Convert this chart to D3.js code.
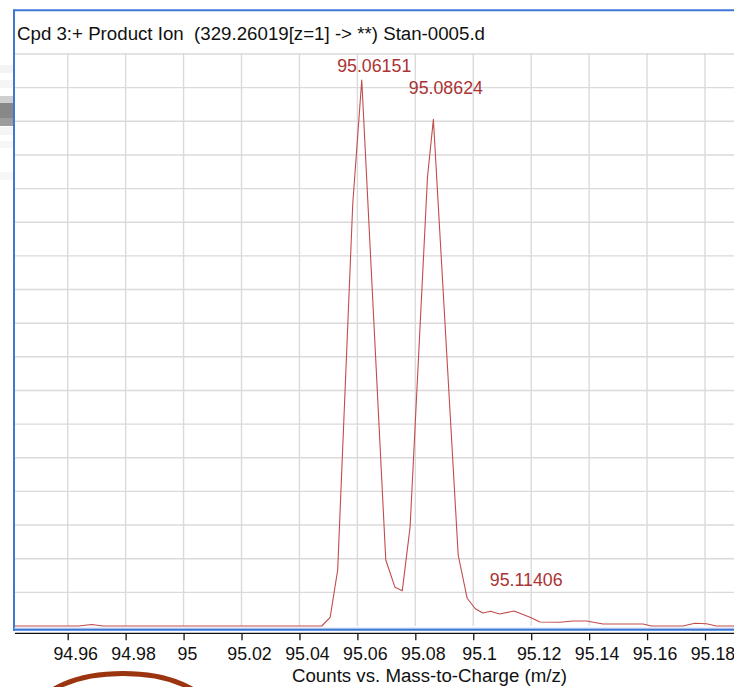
<!DOCTYPE html>
<html>
<head>
<meta charset="utf-8">
<script src="https://cdn.jsdelivr.net/npm/d3@7"></script>
<style>
  html, body { margin: 0; padding: 0; background: #ffffff; }
  svg { display: block; font-family: "Liberation Sans", Arial, Helvetica, sans-serif; }
</style>
</head>
<body>
<svg id="chart" width="734" height="687"></svg>
<script>
// Product ion spectrum, profile trace (m/z vs counts, x10^3)
const mzValues = [
  94.9366, 94.9637, 94.9683, 94.9722, 95.0477, 95.0506, 95.0532, 95.0584,
  95.06151, 95.0698, 95.0730, 95.0755, 95.0782, 95.0842, 95.08624, 95.0948,
  95.0979, 95.1007, 95.1033, 95.1060, 95.1090, 95.11406, 95.1196, 95.1230,
  95.1299, 95.1345, 95.1391, 95.1448, 95.1586, 95.1615, 95.1724, 95.1765,
  95.1805, 95.1839, 95.1920
];
const countValues = [
  0.000, 0.000, 0.022, 0.000, 0.000, 0.129, 0.832, 6.270,
  8.113, 0.981, 0.575, 0.525, 1.471, 6.672, 7.528, 1.055,
  0.412, 0.256, 0.193, 0.218, 0.178, 0.223, 0.129, 0.059,
  0.055, 0.074, 0.074, 0.030, 0.030, 0.000, 0.000, 0.040,
  0.034, 0.000, 0.000
];

// Labelled peaks
const peakMz = [95.06151, 95.08624, 95.11406];
const peakCounts = [8.113, 7.528, 0.223];

// Axis ticks
const xTicks = [94.96, 94.98, 95.00, 95.02, 95.04, 95.06, 95.08, 95.10, 95.12, 95.14, 95.16, 95.18];
const yGrid = [0.5, 1.0, 1.5, 2.0, 2.5, 3.0, 3.5, 4.0, 4.5, 5.0, 5.5, 6.0, 6.5, 7.0, 7.5, 8.0, 8.5];

const titleText = "Cpd 3:+ Product Ion  (329.26019[z=1] -> **) Stan-0005.d";
const xAxisTitle = "Counts vs. Mass-to-Charge (m/z)";

const svg = d3.select("#chart");
const W = 734, H = 687;

const plot = { left: 14, right: 734, top: 53, bottom: 626 };

const x = d3.scaleLinear().domain([94.96, 95.18]).range([67.7, 705]);
const y = d3.scaleLinear().domain([0, 8.5]).range([626, 54]);

// labels sit slightly right of their anchor, by a share of their own width
const labelShift = 0.168;

// side panel remnants at the far left
const sideBlocks = [
  { y0: 65, y1: 73, c: "#f3f3f3" },
  { y0: 80, y1: 88, c: "#f5f5f5" },
  { y0: 96, y1: 103, c: "#cfcfcf" },
  { y0: 103, y1: 118, c: "#888888" },
  { y0: 118, y1: 126, c: "#9c9c9c" },
  { y0: 127, y1: 135, c: "#f5f5f5" },
  { y0: 141, y1: 148, c: "#f6f6f6" },
  { y0: 172, y1: 180, c: "#f7f7f7" }
];
svg.append("g").selectAll("rect").data(sideBlocks).join("rect")
  .attr("x", 0).attr("width", 13)
  .attr("y", d => d.y0).attr("height", d => d.y1 - d.y0)
  .attr("fill", d => d.c);

// grid
const grid = svg.append("g").attr("stroke", "#dadada").attr("stroke-width", 1.4);
grid.selectAll("line.v").data(xTicks).join("line")
  .attr("class", "v")
  .attr("x1", d => x(d)).attr("x2", d => x(d))
  .attr("y1", plot.top).attr("y2", plot.bottom);
grid.selectAll("line.h").data(yGrid).join("line")
  .attr("class", "h")
  .attr("x1", plot.left).attr("x2", plot.right)
  .attr("y1", d => y(d)).attr("y2", d => y(d));

// clip for the trace
svg.append("clipPath").attr("id", "plotClip")
  .append("rect").attr("x", plot.left + 1).attr("y", plot.top - 30)
  .attr("width", plot.right - plot.left).attr("height", plot.bottom - plot.top + 32);

const pts = mzValues.map((m, i) => [m, countValues[i]]);
const line = d3.line().x(d => x(d[0])).y(d => y(d[1]));
svg.append("path")
  .attr("clip-path", "url(#plotClip)")
  .attr("d", line(pts))
  .attr("fill", "none")
  .attr("stroke", "#c24c4c")
  .attr("stroke-width", 1.1)
  .attr("stroke-linejoin", "round");

// peak labels
svg.append("g").selectAll("text").data(peakMz).join("text")
  .attr("y", (d, i) => Math.max(72, y(peakCounts[i]) - 25))
  .attr("text-anchor", "middle")
  .attr("font-size", 17.8)
  .attr("fill", "#ab3434")
  .text(d => d.toFixed(5))
  .attr("x", function(d) { return x(d) + labelShift * this.getComputedTextLength(); });

// frame (selected panel border)
svg.append("line").attr("x1", 14).attr("x2", W).attr("y1", 10.3).attr("y2", 10.3)
  .attr("stroke", "#3c78d8").attr("stroke-width", 2);
svg.append("line").attr("x1", 14).attr("x2", 14).attr("y1", 9.3).attr("y2", 631)
  .attr("stroke", "#3c78d8").attr("stroke-width", 2);
svg.append("line").attr("x1", 14).attr("x2", W).attr("y1", 628.2).attr("y2", 628.2)
  .attr("stroke", "#b3c9ea").attr("stroke-width", 1);
svg.append("line").attr("x1", 14).attr("x2", W).attr("y1", 629.8).attr("y2", 629.8)
  .attr("stroke", "#3c78d8").attr("stroke-width", 2);

// title
svg.append("text")
  .attr("x", 17).attr("y", 40)
  .attr("font-size", 18).attr("fill", "#111")
  .attr("xml:space", "preserve")
  .style("white-space", "pre")
  .attr("textLength", 468)
  .attr("lengthAdjust", "spacingAndGlyphs")
  .text(titleText);

// x axis
const xAxis = d3.axisBottom(x)
  .tickValues(xTicks)
  .tickSize(7)
  .tickSizeOuter(0)
  .tickFormat(d => String(+d.toFixed(2)));
const gx = svg.append("g").attr("transform", "translate(0,633.3)").call(xAxis);
gx.select(".domain").attr("d", `M${plot.left + 1},0H${W}`).attr("stroke", "#111").attr("stroke-width", 1.3);
gx.selectAll(".tick line").attr("stroke", "#111").attr("stroke-width", 1.3);
gx.selectAll(".tick text")
  .attr("y", 27).attr("dy", 0)
  .attr("font-family", "Liberation Sans, Arial, sans-serif")
  .attr("font-size", 17.8).attr("fill", "#111")
  .attr("x", function() { return labelShift * this.getComputedTextLength(); });

svg.append("text")
  .attr("x", 429.5).attr("y", 682)
  .attr("text-anchor", "middle")
  .attr("font-size", 18).attr("fill", "#111")
  .attr("textLength", 275)
  .attr("lengthAdjust", "spacingAndGlyphs")
  .text(xAxisTitle);

// hand-drawn annotation ring at the lower left
svg.append("ellipse")
  .attr("cx", 123).attr("cy", 710).attr("rx", 84).attr("ry", 36.5)
  .attr("fill", "none").attr("stroke", "#9b3510").attr("stroke-width", 5);
</script>
</body>
</html>
